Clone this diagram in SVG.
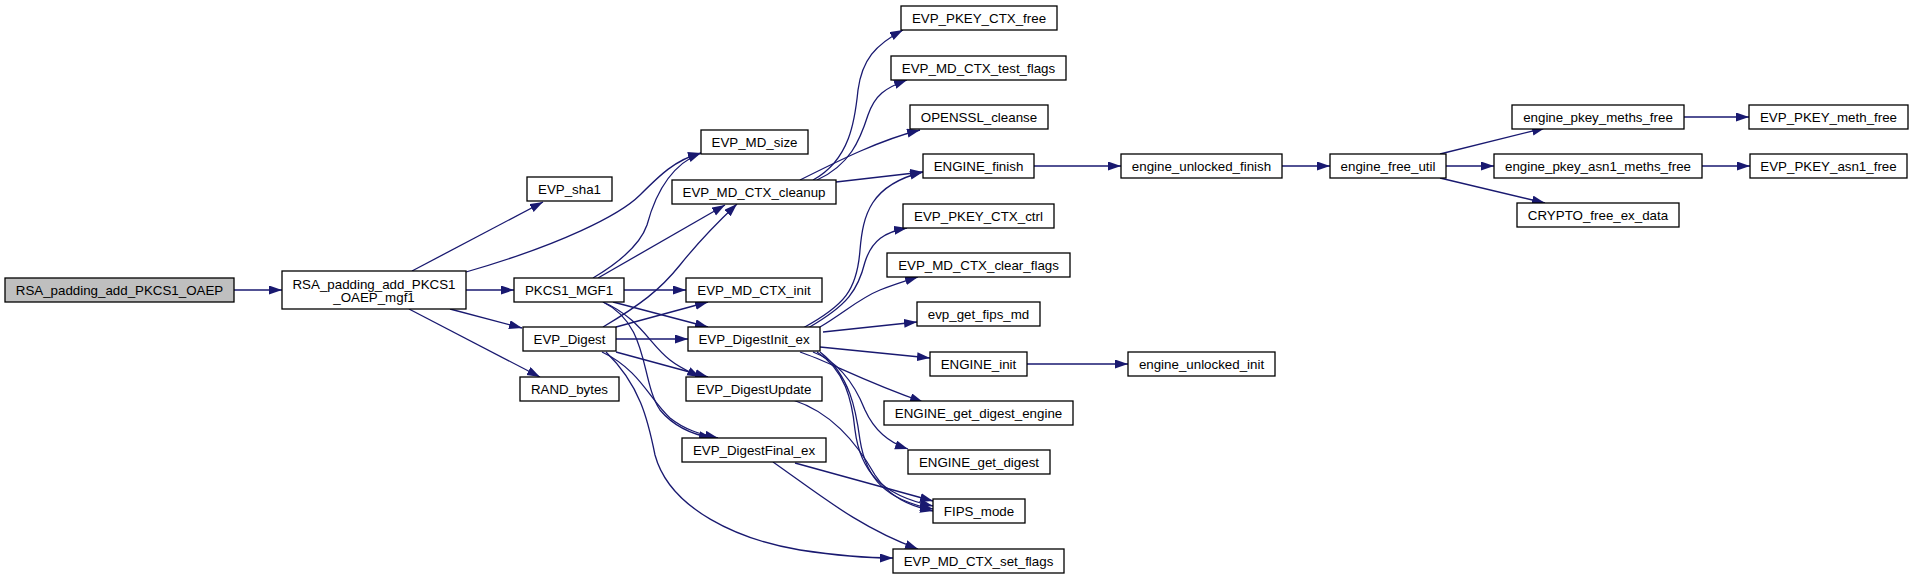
<svg xmlns="http://www.w3.org/2000/svg" width="1913" height="579" viewBox="0 0 1913 579">
<defs>
<marker id="ah" markerUnits="userSpaceOnUse" markerWidth="14" markerHeight="10" refX="13" refY="4.5" orient="auto">
<path d="M0,0 L13,4.5 L0,9 Z" fill="#191970"/>
</marker>
<style>
.n rect{fill:#ffffff;stroke:#000000;stroke-width:1.3}
.n.root rect{fill:#bfbfbf}
.n text{font-family:"Liberation Sans",Arial,Helvetica,sans-serif;font-size:13.33px;fill:#000000;text-anchor:middle}
#edges path{fill:none;stroke:#191970;stroke-width:1.3;marker-end:url(#ah)}
</style>
</defs>
<rect x="0" y="0" width="1913" height="579" fill="#ffffff"/>
<g id="edges">
<path d="M234,290 L282,290"/>
<path d="M412,271 L543,202"/>
<path d="M466,272 C560,245 620,215 640,195 C660,175 675,160 701,153"/>
<path d="M466,290 L514,290"/>
<path d="M450,309 L522,328"/>
<path d="M409,309 L540,377"/>
<path d="M593,278 C620,262 640,245 647,225 C655,195 670,165 701,153"/>
<path d="M598,278 L725,205"/>
<path d="M624,290 L686,290"/>
<path d="M613,302 L708,327"/>
<path d="M603,302 C640,318 650,345 670,360 C680,368 690,372 700,377"/>
<path d="M603,302 C650,325 640,380 660,410 C675,428 695,435 712,438"/>
<path d="M603,327 C640,305 660,290 680,265 C700,240 720,220 737,204"/>
<path d="M616,327 L708,302"/>
<path d="M616,339 L688,339"/>
<path d="M616,352 L708,377"/>
<path d="M602,352 C640,370 650,400 670,418 C685,430 700,434 718,438"/>
<path d="M606,352 C640,385 648,420 655,455 C670,510 740,540 800,550 C840,556 870,558 893,558"/>
<path d="M813,180 C850,160 855,120 858,90 C862,60 875,45 903,30"/>
<path d="M817,180 C850,165 860,140 868,115 C875,95 885,88 907,80"/>
<path d="M800,180 C840,160 880,140 920,130"/>
<path d="M836,182 L923,172"/>
<path d="M1034,166 L1121,166"/>
<path d="M1282,166 L1330,166"/>
<path d="M1440,154 L1545,128"/>
<path d="M1446,166 L1494,166"/>
<path d="M1440,178 L1545,203"/>
<path d="M1684,117 L1749,117"/>
<path d="M1702,166 L1750,166"/>
<path d="M803,328 C845,305 857,290 860,250 C863,215 870,185 923,172"/>
<path d="M808,328 C848,305 858,290 865,262 C872,240 885,232 907,228"/>
<path d="M820,327 C845,312 860,298 880,290 C895,284 905,281 918,277"/>
<path d="M823,332 L917,322"/>
<path d="M820,347 L930,358"/>
<path d="M1027,364 L1128,364"/>
<path d="M800,352 C830,362 860,380 923,402"/>
<path d="M813,352 C840,362 855,385 865,410 C875,432 890,443 908,449"/>
<path d="M817,352 C845,370 852,400 855,430 C860,470 880,495 933,506"/>
<path d="M820,352 C850,375 856,410 860,440 C866,478 885,500 933,509"/>
<path d="M793,400 C830,412 855,440 875,475 C890,498 910,506 933,511"/>
<path d="M795,463 L933,501"/>
<path d="M773,462 C820,495 860,528 918,549"/>
</g>
<g id="n_RSA_padding_add_PKCS1_OAEP" class="n root"><rect x="5" y="278" width="229" height="24"/><text x="119.5" y="295">RSA_padding_add_PKCS1_OAEP</text></g>
<g id="n_RSA_padding_add_PKCS1_OAEP_mgf1" class="n"><rect x="282" y="271" width="184" height="38"/><text x="374" y="288.5">RSA_padding_add_PKCS1</text><text x="374" y="301.5">_OAEP_mgf1</text></g>
<g id="n_EVP_sha1" class="n"><rect x="527" y="177" width="85" height="24"/><text x="569.5" y="194">EVP_sha1</text></g>
<g id="n_EVP_MD_size" class="n"><rect x="701" y="130" width="107" height="24"/><text x="754.5" y="147">EVP_MD_size</text></g>
<g id="n_EVP_MD_CTX_cleanup" class="n"><rect x="672" y="180" width="164" height="24"/><text x="754" y="197">EVP_MD_CTX_cleanup</text></g>
<g id="n_PKCS1_MGF1" class="n"><rect x="514" y="278" width="110" height="24"/><text x="569" y="295">PKCS1_MGF1</text></g>
<g id="n_EVP_MD_CTX_init" class="n"><rect x="686" y="278" width="136" height="24"/><text x="754" y="295">EVP_MD_CTX_init</text></g>
<g id="n_EVP_Digest" class="n"><rect x="523" y="327" width="93" height="24"/><text x="569.5" y="344">EVP_Digest</text></g>
<g id="n_EVP_DigestInit_ex" class="n"><rect x="688" y="327" width="132" height="24"/><text x="754" y="344">EVP_DigestInit_ex</text></g>
<g id="n_RAND_bytes" class="n"><rect x="520" y="377" width="99" height="24"/><text x="569.5" y="394">RAND_bytes</text></g>
<g id="n_EVP_DigestUpdate" class="n"><rect x="686" y="377" width="136" height="24"/><text x="754" y="394">EVP_DigestUpdate</text></g>
<g id="n_EVP_DigestFinal_ex" class="n"><rect x="682" y="438" width="144" height="24"/><text x="754" y="455">EVP_DigestFinal_ex</text></g>
<g id="n_EVP_PKEY_CTX_free" class="n"><rect x="901" y="6" width="156" height="24"/><text x="979" y="23">EVP_PKEY_CTX_free</text></g>
<g id="n_EVP_MD_CTX_test_flags" class="n"><rect x="891" y="56" width="175" height="24"/><text x="978.5" y="73">EVP_MD_CTX_test_flags</text></g>
<g id="n_OPENSSL_cleanse" class="n"><rect x="910" y="105" width="138" height="24"/><text x="979" y="122">OPENSSL_cleanse</text></g>
<g id="n_ENGINE_finish" class="n"><rect x="923" y="154" width="111" height="24"/><text x="978.5" y="171">ENGINE_finish</text></g>
<g id="n_engine_unlocked_finish" class="n"><rect x="1121" y="154" width="161" height="24"/><text x="1201.5" y="171">engine_unlocked_finish</text></g>
<g id="n_engine_free_util" class="n"><rect x="1330" y="154" width="116" height="24"/><text x="1388" y="171">engine_free_util</text></g>
<g id="n_EVP_PKEY_CTX_ctrl" class="n"><rect x="903" y="204" width="151" height="24"/><text x="978.5" y="221">EVP_PKEY_CTX_ctrl</text></g>
<g id="n_EVP_MD_CTX_clear_flags" class="n"><rect x="887" y="253" width="183" height="24"/><text x="978.5" y="270">EVP_MD_CTX_clear_flags</text></g>
<g id="n_evp_get_fips_md" class="n"><rect x="917" y="302" width="123" height="24"/><text x="978.5" y="319">evp_get_fips_md</text></g>
<g id="n_ENGINE_init" class="n"><rect x="930" y="352" width="97" height="24"/><text x="978.5" y="369">ENGINE_init</text></g>
<g id="n_engine_unlocked_init" class="n"><rect x="1128" y="352" width="147" height="24"/><text x="1201.5" y="369">engine_unlocked_init</text></g>
<g id="n_ENGINE_get_digest_engine" class="n"><rect x="884" y="401" width="189" height="24"/><text x="978.5" y="418">ENGINE_get_digest_engine</text></g>
<g id="n_ENGINE_get_digest" class="n"><rect x="908" y="450" width="142" height="24"/><text x="979" y="467">ENGINE_get_digest</text></g>
<g id="n_FIPS_mode" class="n"><rect x="933" y="499" width="92" height="24"/><text x="979" y="516">FIPS_mode</text></g>
<g id="n_EVP_MD_CTX_set_flags" class="n"><rect x="893" y="549" width="171" height="24"/><text x="978.5" y="566">EVP_MD_CTX_set_flags</text></g>
<g id="n_engine_pkey_meths_free" class="n"><rect x="1512" y="105" width="172" height="24"/><text x="1598" y="122">engine_pkey_meths_free</text></g>
<g id="n_EVP_PKEY_meth_free" class="n"><rect x="1749" y="105" width="159" height="24"/><text x="1828.5" y="122">EVP_PKEY_meth_free</text></g>
<g id="n_engine_pkey_asn1_meths_free" class="n"><rect x="1494" y="154" width="208" height="24"/><text x="1598" y="171">engine_pkey_asn1_meths_free</text></g>
<g id="n_EVP_PKEY_asn1_free" class="n"><rect x="1750" y="154" width="157" height="24"/><text x="1828.5" y="171">EVP_PKEY_asn1_free</text></g>
<g id="n_CRYPTO_free_ex_data" class="n"><rect x="1517" y="203" width="162" height="24"/><text x="1598" y="220">CRYPTO_free_ex_data</text></g>
</svg>
